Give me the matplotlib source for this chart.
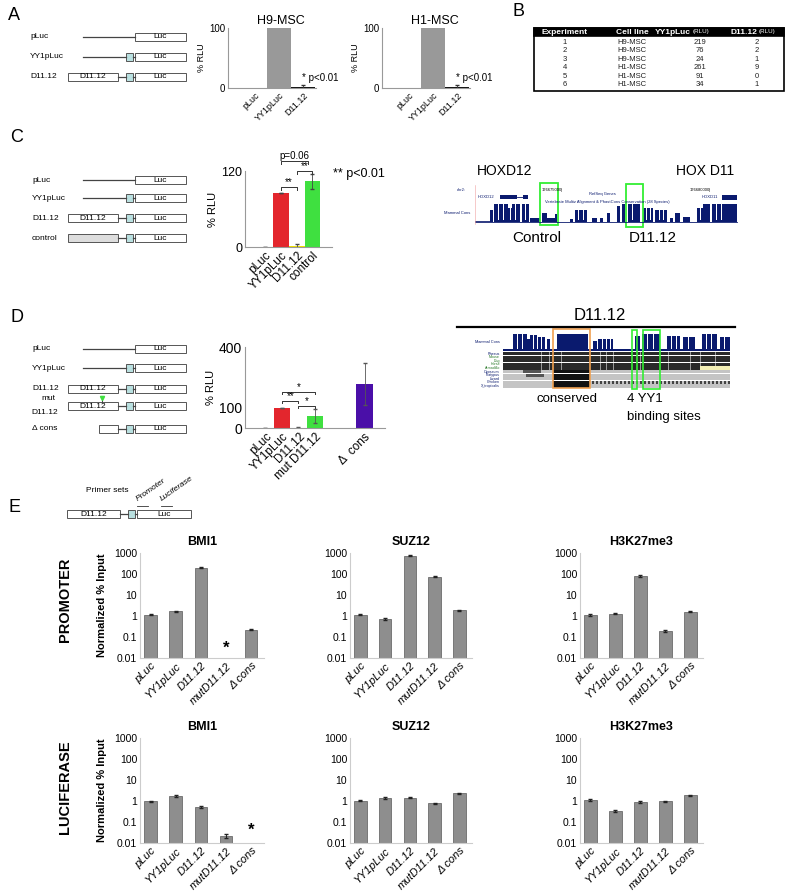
import numpy as np
import matplotlib
matplotlib.use("Agg")
import matplotlib.pyplot as plt
from matplotlib.patches import Rectangle

plt.rcParams['font.family'] = ['Liberation Sans', 'DejaVu Sans']

W, H = 800, 892

# ---------------- data ----------------
# A: luciferase, % RLU
a_cats = ["pLuc", "YY1pLuc", "D11.12"]
a_h9 = [0, 100, 1.5]
a_h9_err = [0, 0, 3]
a_h1 = [0, 100, 2]
a_h1_err = [0, 0, 3]

# B: table
b_cols = ["Experiment", "Cell line", "YY1pLuc", "D11.12"]
b_exp = [1, 2, 3, 4, 5, 6]
b_cell = ["H9-MSC", "H9-MSC", "H9-MSC", "H1-MSC", "H1-MSC", "H1-MSC"]
b_yy1 = [219, 76, 24, 261, 91, 34]
b_d11 = [2, 2, 1, 9, 0, 1]

# C
c_cats = ["pLuc", "YY1pLuc", "D11.12", "control"]
c_vals = [0, 85, 1, 104]
c_err = [0, 0, 3, 12]
c_colors = ["#999999", "#e3262d", "#f2e400", "#3fe040"]

# D
d_cats = ["pLuc", "YY1pLuc", "D11.12", "mut D11.12", "\u0394  cons"]
d_pos = [0, 1, 2, 3, 6]
d_vals = [0, 98, 2, 59, 217]
d_err = [0, 0, 2, 33, 105]
d_colors = ["#999999", "#e3262d", "#f2e400", "#3fe040", "#4a0fa8"]

# E: ChIP, normalized % input
e_cats = ["pLuc", "YY1pLuc", "D11.12", "mutD11.12", "\u0394 cons"]
e_targets = ["BMI1", "SUZ12", "H3K27me3"]
prom_bmi1 = [1.15, 1.7, 200, np.nan, 0.22]
prom_bmi1_err = [0.08, 0.12, 12, 0, 0.01]
prom_suz12 = [1.15, 0.75, 750, 75, 1.9]
prom_suz12_err = [0.06, 0.08, 40, 6, 0.08]
prom_h3k = [1.1, 1.3, 80, 0.2, 1.6]
prom_h3k_err = [0.1, 0.1, 6, 0.02, 0.06]
luc_bmi1 = [0.95, 1.7, 0.5, 0.022, np.nan]
luc_bmi1_err = [0.1, 0.2, 0.05, 0.005, 0]
luc_suz12 = [1.05, 1.45, 1.45, 0.78, 2.3]
luc_suz12_err = [0.1, 0.15, 0.06, 0.06, 0.08]
luc_h3k = [1.15, 0.33, 0.9, 0.95, 1.9]
luc_h3k_err = [0.1, 0.04, 0.1, 0.08, 0.1]
e_yticks = [0.01, 0.1, 1, 10, 100, 1000]
e_ytick_lbl = ["0.01", "0.1", "1", "10", "100", "1000"]

# C genome browser: conservation blocks (x0, x1 in px, height fraction)
c_cons = [(490, 493, .65), (494, 508, 1), (508, 512, .8), (512, 520, 1), (522, 529, 1),
          (530, 540, .2), (542, 547, .5), (547, 555, .2), (555, 557, .45), (570, 573, .15),
          (575, 587, .65), (592, 597, .2), (600, 603, .2), (607, 610, .5), (617, 620, .9),
          (622, 625, 1), (628, 640, 1), (643, 653, .8), (655, 667, .65), (670, 673, .2),
          (675, 680, .5), (683, 690, .3), (697, 703, .8), (703, 710, 1), (712, 737, 1)]
c_gaps = [498, 503, 510, 515, 525, 578, 583, 632, 646, 650, 659, 663, 700, 716, 721]
# D genome browser: conservation blocks
d_cons = [(513, 527, 1), (527, 530, .7), (530, 537, .95), (538, 545, .8), (547, 550, .7),
          (557, 588, 1), (593, 597, .6), (598, 613, .7), (635, 640, .9), (642, 660, 1),
          (667, 680, .9), (683, 695, .85), (702, 717, 1), (720, 730, .8)]
d_gaps = [517, 522, 533, 541, 602, 606, 610, 647, 653, 671, 676, 688, 706, 711, 724]
d_species = ["Rhesus", "Mouse", "Dog", "Horse", "Armadillo", "Opossum", "Platypus",
             "Lizard", "Chicken", "X_tropicalis"]

# ---------------- figure ----------------
fig = plt.figure(figsize=(W / 100, H / 100), dpi=100)
bg = fig.add_axes([0, 0, 1, 1])
bg.set_xlim(0, W)
bg.set_ylim(H, 0)
bg.axis('off')


def px_axes(x0, y0, x1, y1):
    return fig.add_axes([x0 / W, 1 - y1 / H, (x1 - x0) / W, (y1 - y0) / H])


def box(x0, x1, y, h, fc='white', ec='#555555', lw=0.7):
    bg.add_patch(Rectangle((x0, y - h / 2), x1 - x0, h, fc=fc, ec=ec, lw=lw))


def construct(y, label, kind, lx=30, ox=68, s=1.0, h=8, fs=6):
    X = lambda v: ox + (v - 68) * s
    lc = '#444444'
    if label:
        bg.text(lx, y, label, fontsize=fs, va='center', ha='left')
    if kind == 'pluc':
        bg.plot([X(83), X(135)], [y, y], color=lc, lw=0.9)
    else:
        if kind == 'yy1':
            bg.plot([X(83), X(126)], [y, y], color=lc, lw=0.9)
        elif kind == 'dcons':
            box(X(99), X(118), y, h)
            bg.plot([X(118), X(126)], [y, y], color=lc, lw=0.9)
        else:
            fc = '#dddddd' if kind == 'control' else 'white'
            box(X(68), X(118), y, h, fc=fc)
            if kind != 'control':
                bg.text((X(68) + X(118)) / 2, y, "D11.12", fontsize=fs, ha='center', va='center')
            bg.plot([X(118), X(126)], [y, y], color=lc, lw=0.9)
            if kind == 'mut':
                bg.plot([X(102), X(102)], [y - 4, y - 7], color=lc, lw=0.7)
                bg.plot(X(102), y - 8, marker='v', ms=3, color='#3fe040')
        box(X(126), X(133), y, h * 1.1, fc='#b9e0e0')
        bg.plot([X(133), X(135)], [y, y], color=lc, lw=0.9)
    box(X(135), X(186), y, h)
    bg.text((X(135) + X(186)) / 2, y, "Luc", fontsize=fs, ha='center', va='center')


def style(ax, spine='#999999'):
    for s in ['top', 'right']:
        ax.spines[s].set_visible(False)
    for s in ['left', 'bottom']:
        ax.spines[s].set_color(spine)
        ax.spines[s].set_linewidth(0.8)
    ax.tick_params(length=0, pad=2)


def bracket(ax, x1, x2, y, d, txt, fs=7):
    ax.plot([x1, x1, x2, x2], [y - d, y, y, y - d], color='#333333', lw=0.7, clip_on=False)
    ax.text((x1 + x2) / 2, y, txt, ha='center', va='bottom', fontsize=fs, clip_on=False)


def cons_track(blocks, gaps, base, top, color='#0a1a6e'):
    for x0, x1, f in blocks:
        bg.add_patch(Rectangle((x0, base), x1 - x0, -(base - top) * f, fc=color, ec='none'))
    for g in gaps:
        bg.add_patch(Rectangle((g, base - 2), 0.8, -(base - top), fc='white', ec='none'))


# panel letters
for t, x, y in [("A", 8, 16), ("B", 512, 12), ("C", 10, 137), ("D", 10, 317), ("E", 8, 507)]:
    bg.text(x, y, t, fontsize=13, ha='left', va='center')

# ---------------- A ----------------
for y, lab, kind in [(37, "pLuc", 'pluc'), (57, "YY1pLuc", 'yy1'), (77, "D11.12", 'd11')]:
    construct(y, lab, kind)

for (x0, x1), vals, errs, title in [((228, 316), a_h9, a_h9_err, "H9-MSC"),
                                   ((382, 470), a_h1, a_h1_err, "H1-MSC")]:
    ax = px_axes(x0, 28, x1, 88)
    ax.bar(range(3), vals, width=1.0, color=['#999999', '#999999', '#111111'])
    ax.errorbar([2], [vals[2]], yerr=[errs[2]], fmt='none', ecolor='#333333', lw=0.6, capsize=1.5)
    ax.set_xlim(-1.15, 2.55)
    ax.set_ylim(0, 100)
    ax.set_yticks([0, 100])
    ax.tick_params(axis='y', labelsize=7)
    ax.set_xticks(range(3))
    ax.set_xticklabels(a_cats, rotation=45, ha='right', rotation_mode='anchor', fontsize=6.5)
    ax.set_ylabel("% RLU", fontsize=6.5, labelpad=2)
    ax.set_title(title, fontsize=9, pad=3, x=0.6)
    ax.text(1.95, 17, "* p<0.01", fontsize=7, va='center')
    style(ax)

# ---------------- B ----------------
bg.add_patch(Rectangle((534, 28), 250, 63, fc='white', ec='black', lw=1.2))
bg.add_patch(Rectangle((534, 28), 250, 8, fc='black', ec='black', lw=1.2))
col_x = [565, 632, 700, 757]
bg.text(col_x[0], 32, b_cols[0], color='white', fontsize=6, fontweight='bold', ha='center', va='center')
bg.text(col_x[1], 32, b_cols[1], color='white', fontsize=6, fontweight='bold', ha='center', va='center')
bg.text(691, 32, b_cols[2], color='white', fontsize=6, fontweight='bold', ha='right', va='center')
bg.text(693, 32, "(RLU)", color='white', fontsize=4.5, ha='left', va='center')
bg.text(757, 32, b_cols[3], color='white', fontsize=6, fontweight='bold', ha='right', va='center')
bg.text(759, 32, "(RLU)", color='white', fontsize=4.5, ha='left', va='center')
for i in range(len(b_exp)):
    y = 42 + i * 8.6
    for cx, v in zip(col_x, [b_exp[i], b_cell[i], b_yy1[i], b_d11[i]]):
        bg.text(cx, y, str(v), fontsize=5.5, ha='center', va='center', color='#222222')

# ---------------- C ----------------
for y, lab, kind in [(180, "pLuc", 'pluc'), (198, "YY1pLuc", 'yy1'),
                     (218, "D11.12", 'd11'), (238, "control", 'control')]:
    construct(y, lab, kind, lx=32)

ax = px_axes(245, 171, 332, 247)
ax.bar(range(4), c_vals, width=1.0, color=c_colors)
ax.errorbar(range(4), c_vals, yerr=c_err, fmt='none', ecolor='#444444', lw=0.6, capsize=1.2)
ax.set_xlim(-1.27, 4.24)
ax.set_ylim(0, 120)
ax.set_yticks([0, 120])
ax.tick_params(axis='y', labelsize=9)
ax.set_xticks(range(4))
ax.set_xticklabels(c_cats, rotation=45, ha='right', rotation_mode='anchor', fontsize=8.5)
ax.set_ylabel("% RLU", fontsize=8, labelpad=2)
style(ax)
bracket(ax, 1, 2, 94.7, 4, "**")
bracket(ax, 2, 3, 120, 4, "**")
bracket(ax, 1, 2.7, 135.8, 4, "p=0.06")
bg.text(333, 174, "** p<0.01", fontsize=9, va='center', ha='left')

# C genome browser
base, top = 222, 204
bg.plot([475, 737], [base, base], color='#0a1a6e', lw=0.6)
bg.plot([475, 490], [base - 1, base - 1], color='#0a1a6e', lw=0.6)
cons_track(c_cons, c_gaps, base, top)
bg.plot([475, 475], [185, 224], color='#f0a0a0', lw=0.4)
bg.text(466, 190, "chr2:", fontsize=3, ha='right', va='center', color='#0a1a6e')
bg.text(552, 190, "176675000|", fontsize=3, ha='center', va='center')
bg.text(700, 190, "176680000|", fontsize=3, ha='center', va='center')
bg.text(602, 194, "RefSeq Genes", fontsize=3, ha='center', va='center', color='#0a1a6e')
bg.text(478, 197, "HOXD12", fontsize=3, ha='left', va='center', color='#0a1a6e')
bg.add_patch(Rectangle((500, 195), 17, 4, fc='#0a1a6e'))
bg.plot([517, 523], [197, 197], color='#0a1a6e', lw=0.6)
bg.add_patch(Rectangle((523, 195), 5, 4, fc='#0a1a6e'))
bg.text(718, 197, "HOXD11", fontsize=3, ha='right', va='center', color='#0a1a6e')
bg.add_patch(Rectangle((722, 195), 15, 5, fc='#0a1a6e'))
bg.text(607, 202, "Vertebrate Multiz Alignment & PhastCons Conservation (28 Species)",
        fontsize=3, ha='center', va='center', color='#0a1a6e')
bg.text(470, 213, "Mammal Cons", fontsize=3, ha='right', va='center', color='#0a1a6e')
bg.add_patch(Rectangle((540, 183), 18, 42, fc='none', ec='#33ee33', lw=1.3))
bg.add_patch(Rectangle((626, 184), 17, 43, fc='none', ec='#33ee33', lw=1.3))
bg.text(505, 171, "HOXD12", fontsize=10, ha='center', va='center')
bg.text(705, 171, "HOX D11", fontsize=10, ha='center', va='center')
bg.text(537, 238, "Control", fontsize=11, ha='center', va='center')
bg.text(653, 238, "D11.12", fontsize=11, ha='center', va='center')

# ---------------- D ----------------
for y, lab, kind in [(349, "pLuc", 'pluc'), (368, "YY1pLuc", 'yy1'), (389, "D11.12", 'd11'),
                     (406, None, 'mut'), (429, "\u0394 cons", 'dcons')]:
    construct(y, lab, kind, lx=32)
bg.text(48, 398, "mut", fontsize=6, ha='center', va='center')
bg.text(45, 413, "D11.12", fontsize=6, ha='center', va='center')

ax = px_axes(245, 347, 385, 428)
ax.bar(d_pos, d_vals, width=1.0, color=d_colors)
ax.errorbar(d_pos, d_vals, yerr=d_err, fmt='none', ecolor='#555555', lw=0.6, capsize=1.2)
ax.set_xlim(-1.24, 7.24)
ax.set_ylim(0, 400)
ax.set_yticks([0, 100, 400])
ax.tick_params(axis='y', labelsize=10)
ax.set_xticks(d_pos)
ax.set_xticklabels(d_cats, rotation=45, ha='right', rotation_mode='anchor', fontsize=8.5)
ax.set_ylabel("% RLU", fontsize=8, labelpad=2)
style(ax)
bracket(ax, 1, 3, 178, 12, "*")
bracket(ax, 1, 2, 133, 12, "**")
bracket(ax, 2, 3, 109, 12, "*")
bg.text(297, 361, "* p<0.05", fontsize=7, va='center', ha='left')
bg.text(297, 370, "** p< 0.01", fontsize=7, va='center', ha='left')

# D genome browser
bg.plot([457, 735], [327, 327], color='black', lw=1.6)
bg.text(600, 316, "D11.12", fontsize=12, ha='center', va='center')
base, top = 351, 334
bg.add_patch(Rectangle((503, base), 227, -2, fc='#0a1a6e', ec='none'))
cons_track(d_cons, d_gaps, base, top)
bg.text(500, 342, "Mammal Cons", fontsize=2.8, ha='right', va='center', color='#0a1a6e')
for i, sp in enumerate(d_species):
    y0 = 352 + i * 3.6
    dark = i < 5
    bg.add_patch(Rectangle((503, y0), 227, 3.2, fc='#2a2a2a' if dark else '#c4c4c4', ec='none'))
    bg.text(500, y0 + 1.6, sp, fontsize=2.6, ha='right', va='center',
            color='#0a1a6e' if i == 0 else ('#2a7a2a' if i < 5 else '#0a1a6e'))
    if dark:
        for xs in [541, 549, 561, 600, 606, 613, 640, 668, 690, 700, 715]:
            bg.add_patch(Rectangle((xs, y0), 1.2, 3.2, fc='#9a9a9a', ec='none'))
    else:
        bg.add_patch(Rectangle((553, y0), 37, 3.2, fc='#111111', ec='none'))
        if i in (5, 6):
            bg.add_patch(Rectangle((508 + 3 * i, y0), 18, 3.2, fc='#555555', ec='none'))
        if i == 8:
            for xs in range(592, 730, 4):
                bg.add_patch(Rectangle((xs, y0), 2, 3.2, fc='#444444', ec='none'))
bg.add_patch(Rectangle((700, 352 + 4 * 3.6), 30, 3.2, fc='#f3efb5', ec='none'))
bg.add_patch(Rectangle((553, 329), 37, 59, fc='none', ec='#f0a050', lw=1.2))
bg.add_patch(Rectangle((632, 330), 5, 59, fc='none', ec='#33ee33', lw=1.2))
bg.add_patch(Rectangle((643, 330), 17, 59, fc='none', ec='#33ee33', lw=1.2))
bg.text(567, 399, "conserved", fontsize=9.5, ha='center', va='center')
bg.text(627, 399, "4 YY1", fontsize=9.5, ha='left', va='center')
bg.text(627, 417, "binding sites", fontsize=9.5, ha='left', va='center')

# ---------------- E ----------------
bg.text(107, 491, "Primer sets", fontsize=6, ha='center', va='center')
construct(514, None, 'd11', ox=67, s=1.05, h=8, fs=6)
bg.plot([137, 148], [505.5, 505.5], color='#333333', lw=0.6)
bg.plot([161, 172], [505.5, 505.5], color='#333333', lw=0.6)
bg.text(139, 503, "Promoter", fontsize=6, rotation=35, ha='left', va='bottom',
        rotation_mode='anchor', style='italic')
bg.text(163, 503, "Luciferase", fontsize=6, rotation=35, ha='left', va='bottom',
        rotation_mode='anchor', style='italic')

col_px = [(140, 264), (350, 472), (580, 703)]
rows = [((553, 658), [prom_bmi1, prom_suz12, prom_h3k], [prom_bmi1_err, prom_suz12_err, prom_h3k_err]),
        ((738, 843), [luc_bmi1, luc_suz12, luc_h3k], [luc_bmi1_err, luc_suz12_err, luc_h3k_err])]
for r, ((y0, y1), vals_list, err_list) in enumerate(rows):
    for c, (x0, x1) in enumerate(col_px):
        ax = px_axes(x0, y0, x1, y1)
        vals = vals_list[c]
        ax.bar(range(5), vals, width=0.5, color='#8e8e8e', edgecolor='#5a5a5a', lw=0.5, log=True)
        ax.errorbar(range(5), vals, yerr=err_list[c], fmt='none', ecolor='#222222', lw=0.7, capsize=1.5)
        ax.set_yscale('log')
        ax.set_ylim(0.01, 1000)
        ax.set_xlim(-0.42, 4.51)
        ax.set_yticks(e_yticks)
        ax.set_yticklabels(e_ytick_lbl, fontsize=7.5)
        ax.minorticks_off()
        ax.set_xticks(range(5))
        ax.set_xticklabels(e_cats, rotation=45, ha='right', rotation_mode='anchor',
                           fontsize=8, style='italic')
        ax.set_title(e_targets[c], fontsize=9, fontweight='bold', pad=6)
        style(ax, spine='#cccccc')
        if c == 0:
            ax.set_ylabel("Normalized % Input", fontsize=8, fontweight='bold', labelpad=5)
        if c == 0 and r == 0:
            ax.text(3, 0.03, "*", fontsize=12, fontweight='bold', ha='center', va='center')
        if c == 0 and r == 1:
            ax.text(4, 0.042, "*", fontsize=12, fontweight='bold', ha='center', va='center')

bg.text(65, 600, "PROMOTER", fontsize=10.5, fontweight='bold', rotation=90, ha='center', va='center')
bg.text(65, 787, "LUCIFERASE", fontsize=10.5, fontweight='bold', rotation=90, ha='center', va='center')

fig.savefig("out.png", dpi=100)
